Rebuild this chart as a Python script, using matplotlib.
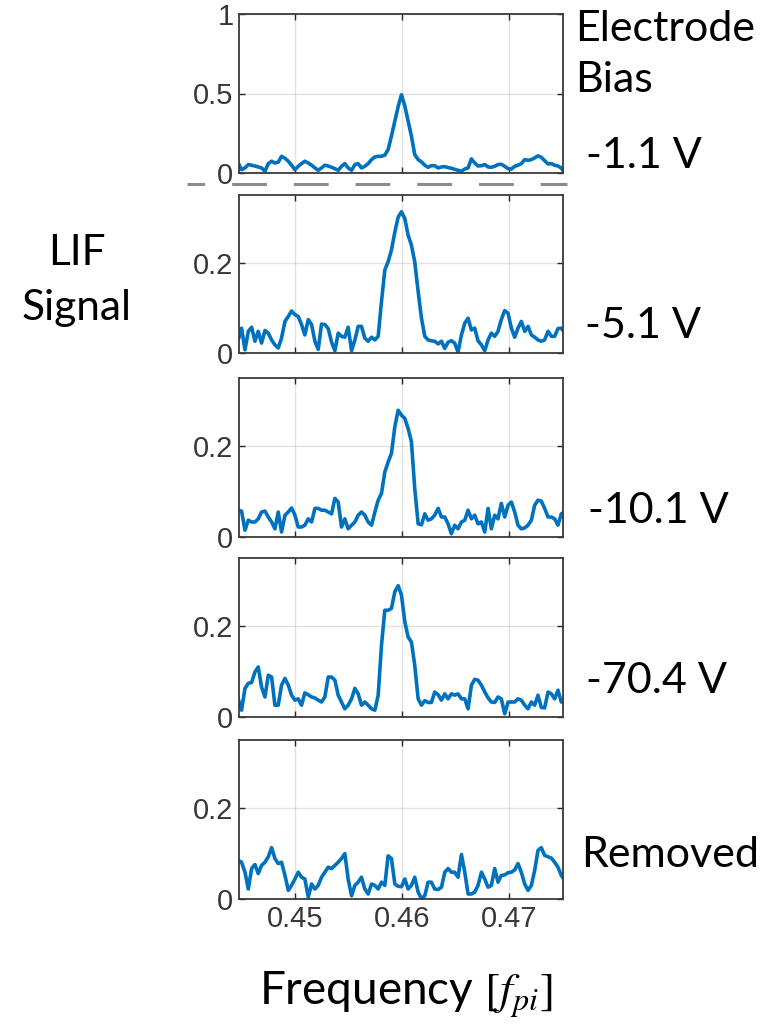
import matplotlib.pyplot as plt
from matplotlib.lines import Line2D

plt.rcParams['mathtext.fontset'] = 'stix'

# frequency grid [f_pi], shared by all panels
freq = [0.44470, 0.44501, 0.44533, 0.44564, 0.44595, 0.44626, 0.44657, 0.44688, 0.44720, 0.44751,
        0.44782, 0.44813, 0.44844, 0.44875, 0.44907, 0.44938, 0.44969, 0.45000, 0.45031, 0.45062,
        0.45093, 0.45125, 0.45156, 0.45187, 0.45218, 0.45249, 0.45280, 0.45312, 0.45343, 0.45374,
        0.45405, 0.45436, 0.45467, 0.45498, 0.45530, 0.45561, 0.45592, 0.45623, 0.45654, 0.45685,
        0.45717, 0.45748, 0.45779, 0.45810, 0.45841, 0.45872, 0.45903, 0.45935, 0.45966, 0.45997,
        0.46028, 0.46059, 0.46090, 0.46121, 0.46153, 0.46184, 0.46215, 0.46246, 0.46277, 0.46308,
        0.46340, 0.46371, 0.46402, 0.46433, 0.46464, 0.46495, 0.46526, 0.46558, 0.46589, 0.46620,
        0.46651, 0.46682, 0.46713, 0.46745, 0.46776, 0.46807, 0.46838, 0.46869, 0.46900, 0.46931,
        0.46963, 0.46994, 0.47025, 0.47056, 0.47087, 0.47118, 0.47150, 0.47181, 0.47212, 0.47243,
        0.47274, 0.47305, 0.47336, 0.47368, 0.47399, 0.47430, 0.47461, 0.47492, 0.47523]

lif_m1_1 = [0.063, 0.021, 0.032, 0.053, 0.049, 0.044, 0.038, 0.032, 0.011, 0.059,
            0.074, 0.063, 0.068, 0.105, 0.093, 0.074, 0.049, 0.021, 0.042, 0.059,
            0.074, 0.063, 0.049, 0.032, 0.017, 0.032, 0.049, 0.044, 0.036, 0.027,
            0.017, 0.042, 0.059, 0.032, 0.017, 0.053, 0.059, 0.032, 0.042, 0.059,
            0.084, 0.101, 0.105, 0.105, 0.112, 0.148, 0.232, 0.327, 0.418, 0.492,
            0.422, 0.327, 0.232, 0.116, 0.084, 0.070, 0.049, 0.036, 0.046, 0.046,
            0.032, 0.038, 0.040, 0.034, 0.030, 0.023, 0.017, 0.011, 0.025, 0.032,
            0.089, 0.063, 0.044, 0.046, 0.053, 0.038, 0.036, 0.042, 0.053, 0.055,
            0.042, 0.027, 0.025, 0.042, 0.049, 0.059, 0.084, 0.080, 0.084, 0.095,
            0.108, 0.099, 0.078, 0.057, 0.059, 0.049, 0.044, 0.032, 0.000]

lif_m5_1 = [0.029, 0.055, 0.007, 0.048, 0.057, 0.026, 0.048, 0.022, 0.050, 0.044,
            0.029, 0.018, 0.011, 0.033, 0.070, 0.081, 0.093, 0.085, 0.081, 0.063,
            0.040, 0.074, 0.063, 0.026, 0.008, 0.064, 0.063, 0.054, 0.024, 0.005,
            0.044, 0.037, 0.035, 0.057, 0.005, 0.029, 0.059, 0.059, 0.033, 0.026,
            0.035, 0.029, 0.037, 0.114, 0.184, 0.202, 0.228, 0.268, 0.301, 0.313,
            0.298, 0.261, 0.239, 0.202, 0.136, 0.077, 0.037, 0.029, 0.027, 0.026,
            0.020, 0.026, 0.010, 0.024, 0.027, 0.022, 0.002, 0.040, 0.066, 0.077,
            0.051, 0.055, 0.027, 0.018, 0.005, 0.029, 0.044, 0.037, 0.048, 0.074,
            0.094, 0.088, 0.055, 0.035, 0.055, 0.070, 0.048, 0.059, 0.040, 0.035,
            0.029, 0.026, 0.029, 0.048, 0.037, 0.037, 0.054, 0.055, 0.045]

lif_m10_1 = [0.059, 0.057, 0.015, 0.037, 0.033, 0.033, 0.040, 0.055, 0.057, 0.044,
             0.033, 0.018, 0.055, 0.011, 0.048, 0.055, 0.064, 0.048, 0.022, 0.022,
             0.026, 0.040, 0.033, 0.063, 0.063, 0.059, 0.059, 0.055, 0.051, 0.085,
             0.077, 0.022, 0.040, 0.018, 0.026, 0.033, 0.048, 0.055, 0.048, 0.033,
             0.026, 0.055, 0.081, 0.096, 0.143, 0.165, 0.184, 0.243, 0.279, 0.268,
             0.261, 0.239, 0.210, 0.107, 0.029, 0.027, 0.051, 0.037, 0.040, 0.048,
             0.063, 0.044, 0.044, 0.029, 0.007, 0.026, 0.018, 0.033, 0.037, 0.059,
             0.040, 0.048, 0.029, 0.033, 0.011, 0.063, 0.018, 0.048, 0.040, 0.074,
             0.044, 0.070, 0.077, 0.055, 0.026, 0.018, 0.020, 0.026, 0.037, 0.070,
             0.081, 0.079, 0.063, 0.044, 0.044, 0.040, 0.026, 0.051, 0.055]

lif_m70_4 = [0.040, 0.015, 0.063, 0.074, 0.076, 0.099, 0.110, 0.066, 0.044, 0.092,
             0.088, 0.026, 0.026, 0.070, 0.085, 0.070, 0.048, 0.037, 0.040, 0.026,
             0.053, 0.049, 0.044, 0.042, 0.037, 0.033, 0.044, 0.088, 0.088, 0.081,
             0.048, 0.033, 0.018, 0.026, 0.040, 0.063, 0.051, 0.026, 0.033, 0.026,
             0.018, 0.015, 0.048, 0.158, 0.235, 0.235, 0.239, 0.276, 0.289, 0.268,
             0.210, 0.176, 0.165, 0.114, 0.040, 0.026, 0.036, 0.032, 0.032, 0.055,
             0.049, 0.037, 0.051, 0.040, 0.051, 0.048, 0.051, 0.040, 0.040, 0.018,
             0.070, 0.083, 0.081, 0.070, 0.055, 0.042, 0.033, 0.032, 0.044, 0.040,
             0.007, 0.033, 0.033, 0.033, 0.040, 0.037, 0.026, 0.018, 0.033, 0.026,
             0.048, 0.021, 0.020, 0.055, 0.051, 0.040, 0.059, 0.033, 0.033]

lif_removed = [0.085, 0.081, 0.059, 0.022, 0.067, 0.076, 0.056, 0.074, 0.081, 0.093,
               0.113, 0.089, 0.078, 0.081, 0.052, 0.019, 0.030, 0.044, 0.059, 0.048,
               0.044, 0.004, 0.033, 0.022, 0.030, 0.048, 0.059, 0.070, 0.067, 0.074,
               0.081, 0.089, 0.100, 0.044, 0.007, 0.030, 0.037, 0.048, 0.022, 0.011,
               0.033, 0.030, 0.022, 0.037, 0.030, 0.095, 0.089, 0.033, 0.028, 0.027,
               0.044, 0.022, 0.030, 0.048, 0.015, 0.001, 0.007, 0.037, 0.037, 0.022,
               0.021, 0.026, 0.059, 0.067, 0.059, 0.059, 0.048, 0.098, 0.059, 0.011,
               0.011, 0.015, 0.030, 0.059, 0.044, 0.026, 0.030, 0.067, 0.037, 0.052,
               0.053, 0.058, 0.059, 0.064, 0.078, 0.059, 0.033, 0.019, 0.030, 0.063,
               0.107, 0.113, 0.096, 0.093, 0.090, 0.081, 0.070, 0.052, 0.041]

signals = [lif_m1_1, lif_m5_1, lif_m10_1, lif_m70_4, lif_removed]
bias_labels = ['-1.1 V', '-5.1 V', '-10.1 V', '-70.4 V', 'Removed']
xticks = [0.45, 0.46, 0.47]
xlim = (0.44477, 0.47508)

txt_font = 'Lato'
tick_font = 'Liberation Sans'
dark = '#262626'
blue = '#0072BD'

W, H = 773, 1025
fig = plt.figure(figsize=(W / 100, H / 100), dpi=100)

# panel top/bottom edges in pixels
panel_px = [(14, 173), (195, 353), (378, 537), (558, 717), (740, 899)]
left_px, right_px = 239, 563
label_px = [(586, 168), (585, 338), (588, 523), (586, 693), (581, 867)]

for i, (sig, (top, bot)) in enumerate(zip(signals, panel_px)):
    ax = fig.add_axes([left_px / W, 1 - bot / H, (right_px - left_px) / W, (bot - top) / H])
    ax.plot(freq, sig, color=blue, lw=2.6, solid_joinstyle='round')
    ax.set_xlim(*xlim)
    if i == 0:
        ax.set_ylim(0, 1)
        ax.set_yticks([0, 0.5, 1])
        ax.set_yticklabels(['0', '0.5', '1'])
    else:
        ax.set_ylim(0, 0.35)
        ax.set_yticks([0, 0.2])
        ax.set_yticklabels(['0', '0.2'])
    ax.set_xticks(xticks)
    if i == len(signals) - 1:
        ax.set_xticklabels(['0.45', '0.46', '0.47'])
    else:
        ax.set_xticklabels([])
    ax.grid(True, color=dark, alpha=0.13, lw=1.0)
    ax.set_axisbelow(True)
    for sp in ax.spines.values():
        sp.set_color('#3a3a3a')
        sp.set_linewidth(1.3)
    ax.tick_params(direction='in', length=4, width=1.0, top=True, right=True,
                   colors=dark, labelsize=21, pad=4)
    for lab in ax.get_xticklabels() + ax.get_yticklabels():
        lab.set_fontfamily(tick_font)
        lab.set_color('#383838')
    lx, ly = label_px[i]
    fig.text(lx / W, 1 - ly / H, bias_labels[i], fontsize=31, family=txt_font,
             va='baseline', ha='left')

# header and side labels
fig.text(575 / W, 1 - 41 / H, 'Electrode', fontsize=31, family=txt_font, va='baseline')
fig.text(575 / W, 1 - 92 / H, 'Bias', fontsize=31, family=txt_font, va='baseline')
fig.text(77 / W, 1 - 265 / H, 'LIF', fontsize=30.5, family=txt_font, va='baseline', ha='center')
fig.text(77 / W, 1 - 320 / H, 'Signal', fontsize=30.5, family=txt_font, va='baseline', ha='center')
fig.text(406 / W, 1 - 1005 / H, 'Frequency $[f_{pi}]$', fontsize=33, family=txt_font,
         va='baseline', ha='center')

# dashed separator under the first panel
sep = Line2D([187 / W, 567 / W], [1 - 184 / H, 1 - 184 / H], transform=fig.transFigure,
             color='#8c8c8c', lw=2.2, linestyle=(5.6, (11.4, 8.8)), solid_capstyle='butt',
             dash_capstyle='butt')
fig.add_artist(sep)

fig.savefig('out.png', dpi=100)
